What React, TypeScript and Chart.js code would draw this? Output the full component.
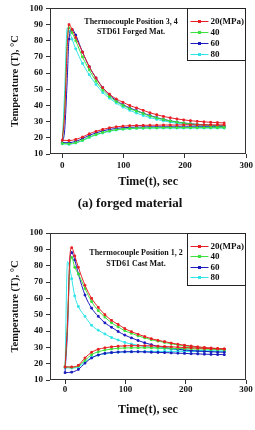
import React, { useEffect, useRef } from 'react';
import { Chart, registerables } from 'chart.js';

Chart.register(...registerables);

const FONT = "'Liberation Serif', 'Times New Roman', serif";

// ---- shared data ----
const pressureLabels = ['20(MPa)', '40', '60', '80'];
const seriesColors = ['rgb(232,30,36)', 'rgb(60,226,60)', 'rgb(28,28,190)', 'rgb(50,228,232)'];
const xTickValues = [0, 100, 200, 300];

const hotTimes = [0, 4, 8, 11, 16, 22, 33, 44, 55, 66, 77, 88, 99, 110, 121, 132, 143, 154, 165, 176, 187, 198, 209, 220, 231, 242, 253, 264];
const coolTimes = [0, 11, 22, 33, 44, 55, 66, 77, 88, 99, 110, 121, 132, 143, 154, 165, 176, 187, 198, 209, 220, 231, 242, 253, 264];
// times on the rising edge that carry no marker
const unmarkedTimes = [0, 4, 8];

// ---- (a) forged material, thermocouple 3,4 ----
const forgedHot20 = [19, 35, 75, 90, 87, 82, 73, 64, 57, 51, 47, 44, 42, 40, 38.5, 37, 35.5, 34.3, 33.2, 32.4, 31.7, 31.1, 30.6, 30.2, 29.9, 29.6, 29.4, 29.2];
const forgedHot40 = [17, 40, 80, 88, 85, 80, 70, 62, 55, 49.5, 45.5, 42.5, 40, 38, 36.5, 35, 33.5, 32.3, 31.3, 30.4, 29.7, 29.1, 28.6, 28.2, 27.9, 27.6, 27.4, 27.3];
const forgedHot60 = [17, 25, 55, 81, 87, 83.5, 73, 64, 57, 51, 46.5, 43, 40.5, 38.5, 36.8, 35.2, 33.8, 32.5, 31.4, 30.5, 29.8, 29.2, 28.7, 28.3, 28, 27.8, 27.6, 27.5];
const forgedHot80 = [16.5, 50, 88, 86, 81, 75, 66, 59, 53, 48, 44.5, 41.5, 39, 37, 35.3, 33.8, 32.5, 31.4, 30.5, 29.7, 29, 28.4, 28, 27.6, 27.3, 27.1, 26.9, 26.8];

const forgedCool20 = [18.5, 18.3, 19, 20.5, 22.5, 24, 25.2, 26.2, 26.8, 27.2, 27.5, 27.6, 27.7, 27.8, 27.8, 27.9, 27.9, 27.9, 28, 28, 28, 28, 28, 28, 28];
const forgedCool40 = [16.5, 16.3, 17, 18.5, 20.5, 22, 23.3, 24.3, 25, 25.5, 25.8, 26, 26.1, 26.2, 26.2, 26.3, 26.3, 26.3, 26.3, 26.3, 26.3, 26.3, 26.3, 26.3, 26.3];
const forgedCool60 = [17, 17, 17.8, 19.5, 21.5, 23, 24.3, 25.2, 25.8, 26.2, 26.5, 26.6, 26.7, 26.8, 26.8, 26.8, 26.8, 26.8, 26.8, 26.8, 26.8, 26.8, 26.8, 26.8, 26.8];
const forgedCool80 = [16.3, 16, 16.8, 18.3, 20.2, 21.8, 23, 24, 24.8, 25.3, 25.6, 25.8, 25.9, 26, 26, 26, 26, 26, 26, 26, 26, 26, 26, 26, 26];

// ---- cast material, thermocouple 1,2 ----
const castHot20 = [18, 45, 86, 91, 86, 79, 68, 60, 54.5, 50, 46.5, 44, 41.5, 39.6, 38, 36.6, 35.3, 34.3, 33.5, 32.6, 31.9, 31.3, 30.8, 30.3, 29.9, 29.6, 29.3, 29];
const castHot40 = [18, 45, 80, 85, 79, 75, 66, 58, 52.5, 48.5, 45, 42.5, 40.2, 38.6, 37, 35.8, 34.7, 33.8, 33, 32.2, 31.5, 30.9, 30.4, 30, 29.6, 29.3, 29, 28.8];
const castHot60 = [15, 40, 83, 88, 83.5, 75, 62, 54, 49, 45, 42.3, 39.7, 37.5, 35.8, 34.2, 32.8, 31.6, 30.6, 29.9, 29.3, 28.8, 28.4, 28, 27.7, 27.5, 27.3, 27.1, 27];
const castHot80 = [18, 82.5, 78, 72, 61.5, 55, 49, 43.5, 40.5, 38.2, 36, 34.5, 33, 32, 31.2, 30.5, 30, 29.5, 29.2, 28.9, 28.6, 28.4, 28.2, 28.1, 28, 27.9, 27.8, 27.8];

const castCool20 = [18, 18, 19, 23.5, 27, 28.8, 29.7, 30.3, 30.7, 30.9, 31, 31, 31, 30.9, 30.7, 30.5, 30.3, 30.1, 29.9, 29.7, 29.5, 29.4, 29.2, 29.1, 29];
const castCool40 = [18, 17.8, 18.5, 22, 25.5, 27.3, 28.3, 29, 29.4, 29.6, 29.7, 29.7, 29.7, 29.7, 29.6, 29.5, 29.4, 29.3, 29.2, 29.1, 29, 28.9, 28.8, 28.7, 28.5];
const castCool60 = [14.5, 14.8, 16.5, 20.3, 23.5, 25.3, 26.3, 26.8, 27.1, 27.3, 27.3, 27.3, 27.2, 27, 26.9, 26.8, 26.6, 26.4, 26.3, 26.1, 26, 25.8, 25.7, 25.6, 25.5];
const castCool80 = [17.5, 17.3, 18, 21, 23.8, 25.3, 26.2, 26.7, 27, 27.2, 27.3, 27.4, 27.4, 27.5, 27.5, 27.5, 27.5, 27.5, 27.5, 27.5, 27.5, 27.5, 27.5, 27.5, 27.5];

const forgedNote = ['Thermocouple Position 3, 4', 'STD61 Forged Mat.'];
const castNote = ['Thermocouple Position 1, 2', 'STD61 Cast Mat.'];
const xTitle = 'Time(t), sec';
const yTitle = 'Temperature (T), °C';
const forgedCaption = '(a) forged material';

type Panel = {
  hot: number[][];
  cool: number[][];
  note: string[];
  xMin: number;
  padTop: number;
  padRight: number;
  xAxisHeight: number;
  xTitlePad: number;
  xTickPad: number;
  noteDx: number;
  noteDy: number;
  noteGap: number;
  legendGap: number;
};

function buildDatasets(p: Panel) {
  const ds: any[] = [];
  pressureLabels.forEach((lab, i) => {
    const common = {
      borderColor: seriesColors[i],
      backgroundColor: seriesColors[i],
      borderWidth: 1,
      pointStyle: 'rect',
      cubicInterpolationMode: 'monotone',
      order: i,
    };
    ds.push({
      label: lab,
      data: hotTimes.map((t, j) => ({ x: t, y: p.hot[i][j] })),
      pointRadius: hotTimes.map((t) => (unmarkedTimes.includes(t) ? 0 : 1.2)),
      ...common,
    });
    ds.push({
      label: lab + ' ',
      data: coolTimes.map((t, j) => ({ x: t, y: p.cool[i][j] })),
      pointRadius: 1.2,
      ...common,
    });
  });
  return ds;
}

function TempChart({ panel, height }: { panel: Panel; height: number }) {
  const ref = useRef<HTMLCanvasElement | null>(null);
  useEffect(() => {
    if (!ref.current) return;
    const p = panel;
    const overlay = {
      id: 'overlay',
      afterDraw(chart: any) {
        const { ctx, chartArea: a } = chart;
        ctx.save();
        // frame
        ctx.strokeStyle = '#333';
        ctx.lineWidth = 1;
        const l = Math.round(a.left) + 0.5;
        const t = Math.round(a.top) + 0.5;
        const r = Math.round(a.right) - 0.5;
        const b = Math.round(a.bottom) - 0.5;
        ctx.strokeRect(l, t, r - l, b - t);
        // note
        ctx.fillStyle = '#111';
        ctx.font = `bold 8px ${FONT}`;
        ctx.textAlign = 'center';
        ctx.textBaseline = 'middle';
        p.note.forEach((s, i) => ctx.fillText(s, a.left + p.noteDx, a.top + p.noteDy + i * p.noteGap));
        // legend
        const lw = 58;
        const lh = 52;
        const lx = Math.round(a.right) - lw - 0.5;
        const ly = t;
        ctx.fillStyle = '#fff';
        ctx.fillRect(lx, ly, lw, lh);
        ctx.strokeStyle = '#222';
        ctx.strokeRect(lx, ly, lw, lh);
        ctx.font = `bold 9px ${FONT}`;
        ctx.textAlign = 'left';
        pressureLabels.forEach((lab, i) => {
          const y = Math.round(ly + 12.5 + i * p.legendGap) + 0.5;
          ctx.strokeStyle = seriesColors[i];
          ctx.beginPath();
          ctx.moveTo(lx + 3, y);
          ctx.lineTo(lx + 21, y);
          ctx.stroke();
          ctx.fillStyle = seriesColors[i];
          ctx.fillRect(lx + 10.5, y - 1.5, 3, 3);
          ctx.fillStyle = '#111';
          ctx.fillText(lab, lx + 23, y + 0.5);
        });
        ctx.restore();
      },
    };
    const chart = new Chart(ref.current, {
      type: 'line',
      data: { datasets: buildDatasets(p) },
      options: {
        animation: false,
        responsive: false,
        devicePixelRatio: 1,
        layout: { padding: { top: p.padTop, right: p.padRight, left: 0, bottom: 0 } },
        plugins: { legend: { display: false }, tooltip: { enabled: false } },
        scales: {
          x: {
            type: 'linear',
            min: p.xMin,
            max: 300,
            afterBuildTicks: (s: any) => {
              s.ticks = xTickValues.map((v) => ({ value: v }));
            },
            afterFit: (s: any) => {
              s.height = p.xAxisHeight;
            },
            grid: { drawOnChartArea: false, drawTicks: true, tickLength: 4, color: '#333' },
            border: { display: false },
            ticks: { color: '#111', padding: p.xTickPad, maxRotation: 0, font: { family: FONT, size: 9, weight: 'bold' } },
            title: {
              display: true,
              text: xTitle,
              color: '#111',
              padding: { top: 0, bottom: p.xTitlePad },
              font: { family: FONT, size: 12, weight: 'bold' },
            },
          },
          y: {
            type: 'linear',
            min: 10,
            max: 100,
            afterFit: (s: any) => {
              s.width = 50;
            },
            grid: { drawOnChartArea: false, drawTicks: true, tickLength: 4, color: '#333' },
            border: { display: false },
            ticks: { stepSize: 10, color: '#111', padding: 3, font: { family: FONT, size: 9, weight: 'bold' } },
            title: {
              display: true,
              text: yTitle,
              color: '#111',
              padding: { top: 8.5, bottom: 0 },
              font: { family: FONT, size: 10.5, weight: 'bold' },
            },
          },
        },
      } as any,
      plugins: [overlay],
    });
    return () => chart.destroy();
  }, [panel]);
  return <canvas ref={ref} width={255} height={height} style={{ display: 'block', width: 255, height }} />;
}

const forgedPanel: Panel = {
  hot: [forgedHot20, forgedHot40, forgedHot60, forgedHot80],
  cool: [forgedCool20, forgedCool40, forgedCool60, forgedCool80],
  note: forgedNote,
  xMin: -20,
  padTop: 5,
  padRight: 7,
  xAxisHeight: 61,
  xTitlePad: 26,
  xTickPad: 2,
  noteDx: 81,
  noteDy: 14,
  noteGap: 10,
  legendGap: 11,
};

const castPanel: Panel = {
  hot: [castHot20, castHot40, castHot60, castHot80],
  cool: [castCool20, castCool40, castCool60, castCool80],
  note: castNote,
  xMin: -25,
  padTop: 18,
  padRight: 9,
  xAxisHeight: 50,
  xTitlePad: 13,
  xTickPad: 0,
  noteDx: 86,
  noteDy: 20,
  noteGap: 11,
  legendGap: 10.3,
};

export default function App() {
  return (
    <div style={{ position: 'absolute', left: 0, top: 0, width: 255, height: 430, background: '#fff' }}>
      <div style={{ position: 'absolute', left: 0, top: 0 }}>
        <TempChart panel={forgedPanel} height={215} />
      </div>
      <div
        style={{
          position: 'absolute',
          left: 0,
          top: 194,
          width: 260,
          textAlign: 'center',
          font: `bold 13px ${FONT}`,
          lineHeight: '18px',
          color: '#111',
        }}
      >
        {forgedCaption}
      </div>
      <div style={{ position: 'absolute', left: 0, top: 215 }}>
        <TempChart panel={castPanel} height={215} />
      </div>
    </div>
  );
}
